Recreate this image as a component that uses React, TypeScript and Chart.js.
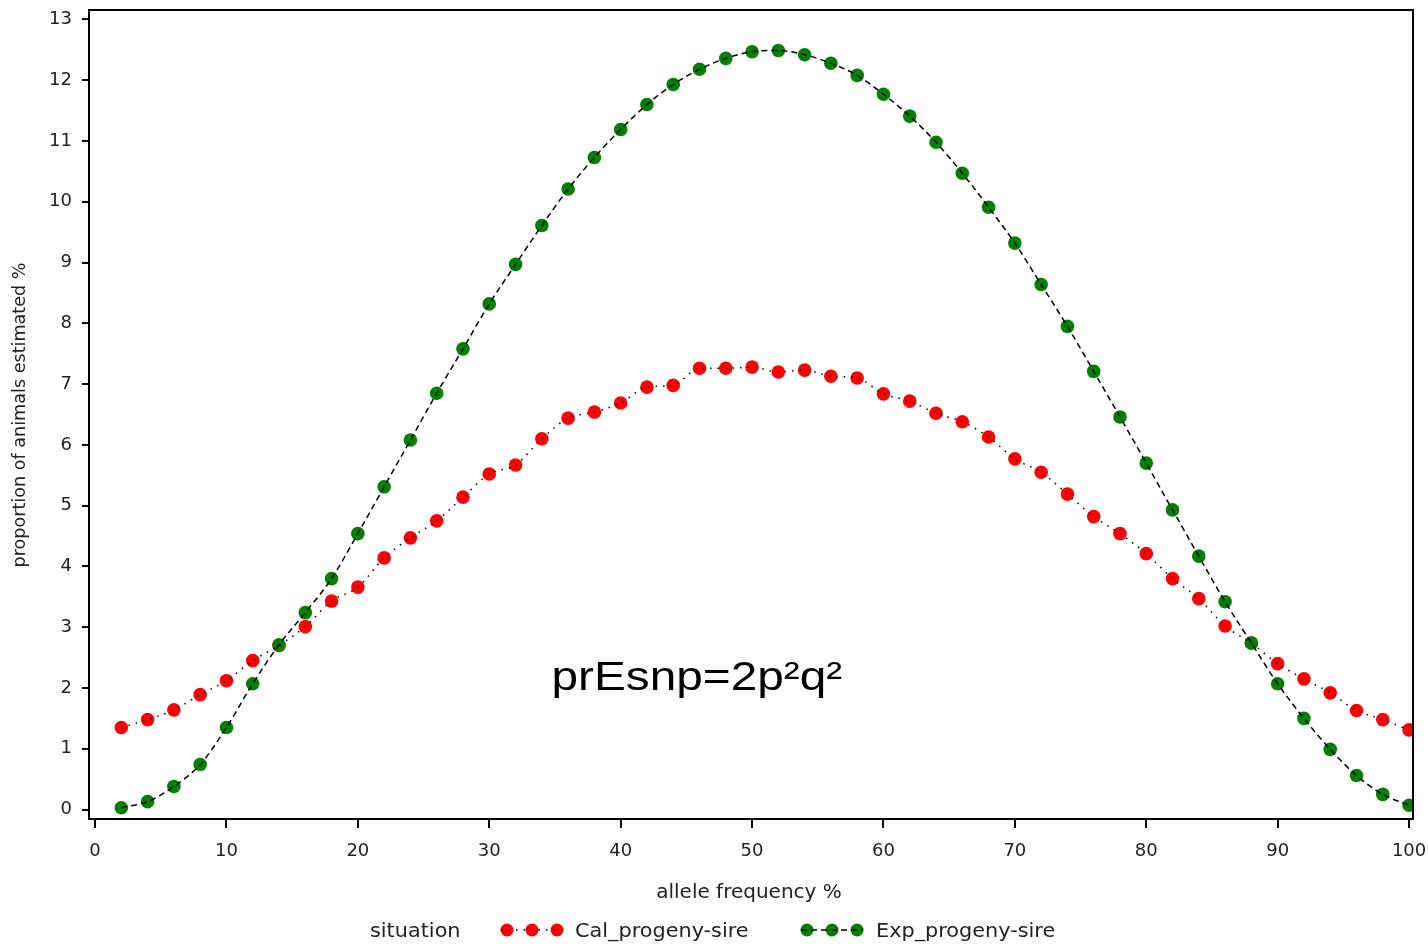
import React, { useEffect, useRef } from "react";
import { Chart, registerables } from "chart.js";

Chart.register(...registerables);

// allele frequency (%)
const X_VALUES = [
  2, 4, 6, 8, 10, 12, 14, 16, 18, 20, 22, 24, 26, 28, 30, 32, 34, 36, 38, 40,
  42, 44, 46, 48, 50, 52, 54, 56, 58, 60, 62, 64, 66, 68, 70, 72, 74, 76, 78, 80,
  82, 84, 86, 88, 90, 92, 94, 96, 98, 100,
];

// Cal_progeny-sire
const CAL_VALUES = [
  1.35, 1.48, 1.64, 1.89, 2.12, 2.45, 2.7, 3.01, 3.43, 3.66, 4.14, 4.47, 4.75, 5.14, 5.52, 5.67, 6.1, 6.44, 6.54, 6.69,
  6.95, 6.98, 7.26, 7.26, 7.28, 7.2, 7.23, 7.13, 7.1, 6.84, 6.72, 6.52, 6.38, 6.13, 5.77, 5.55, 5.19, 4.82, 4.54, 4.21,
  3.8, 3.47, 3.02, 2.74, 2.4, 2.15, 1.92, 1.63, 1.48, 1.31,
];

// Exp_progeny-sire
const EXP_VALUES = [
  0.03, 0.13, 0.38, 0.74, 1.35, 2.07, 2.71, 3.24, 3.8, 4.54, 5.31, 6.08, 6.85, 7.58, 8.32, 8.97, 9.61, 10.21, 10.73, 11.19,
  11.6, 11.93, 12.18, 12.36, 12.47, 12.49, 12.42, 12.28, 12.08, 11.77, 11.41, 10.98, 10.47, 9.91, 9.32, 8.64, 7.95, 7.21, 6.46, 5.7,
  4.93, 4.17, 3.42, 2.74, 2.07, 1.5, 0.99, 0.56, 0.25, 0.07,
];

const X_TICKS = [0, 10, 20, 30, 40, 50, 60, 70, 80, 90, 100];
const Y_TICKS = [0, 1, 2, 3, 4, 5, 6, 7, 8, 9, 10, 11, 12, 13];

const SERIES_NAMES = ["Cal_progeny-sire", "Exp_progeny-sire"];
const LEGEND_TITLE = "situation";
const X_TITLE = "allele frequency %";
const Y_TITLE = "proportion of animals estimated %";
const ANNOTATION = "prEsnp=2p\u00b2q\u00b2";
const ANNOTATION_AT = { x: 45.8, y: 1.97 };

const RED = "#ff0000";
const GREEN = "#008000";
const TEXT = "#222222";
const FONT = '"DejaVu Sans", sans-serif';

const toPoints = (vals: number[]) => vals.map((v, i) => ({ x: X_VALUES[i], y: v }));

const overlay = {
  id: "overlay",
  afterDraw(chart: any) {
    const { ctx, chartArea, scales } = chart;
    const { left, right, top, bottom } = chartArea;
    ctx.save();
    // frame (top & right)
    ctx.strokeStyle = "#000";
    ctx.lineWidth = 2;
    ctx.beginPath();
    ctx.moveTo(left, top);
    ctx.lineTo(right, top);
    ctx.lineTo(right, bottom);
    ctx.stroke();

    // annotation (slightly widened like the source)
    ctx.fillStyle = "#000";
    ctx.font = '41px "Liberation Sans", Arial, sans-serif';
    ctx.textAlign = "center";
    ctx.textBaseline = "alphabetic";
    const ax = scales.x.getPixelForValue(ANNOTATION_AT.x);
    const ay = scales.y.getPixelForValue(ANNOTATION_AT.y);
    ctx.save();
    ctx.translate(ax, ay);
    ctx.scale(1.165, 1);
    ctx.fillText(ANNOTATION, 0, 0);
    ctx.restore();

    // axis titles
    ctx.fillStyle = TEXT;
    ctx.font = "20px " + FONT;
    ctx.textAlign = "center";
    ctx.textBaseline = "middle";
    ctx.fillText(X_TITLE, 749, 893);
    ctx.save();
    ctx.translate(20, 415);
    ctx.rotate(-Math.PI / 2);
    ctx.font = "17.6px " + FONT;
    ctx.fillText(Y_TITLE, 0, 0);
    ctx.restore();

    // legend
    const ly = 932;
    ctx.textAlign = "left";
    ctx.font = "20px " + FONT;
    const widened = (txt: string, x: number, y: number) => {
      ctx.save();
      ctx.translate(x, y);
      ctx.scale(1.04, 1);
      ctx.fillText(txt, 0, 0);
      ctx.restore();
    };
    widened(LEGEND_TITLE, 370, ly);
    const items = [
      { x0: 507, color: RED, dash: [1.5, 6], label: SERIES_NAMES[0], tx: 575 },
      { x0: 807, color: GREEN, dash: [6, 4], label: SERIES_NAMES[1], tx: 876 },
    ];
    items.forEach((it) => {
      for (let k = 0; k < 3; k++) {
        ctx.fillStyle = it.color;
        ctx.beginPath();
        ctx.arc(it.x0 + k * 25, ly - 2, 6.5, 0, Math.PI * 2);
        ctx.fill();
      }
      ctx.strokeStyle = "#000";
      ctx.lineWidth = 1.5;
      ctx.setLineDash(it.dash);
      ctx.beginPath();
      ctx.moveTo(it.x0 - 6, ly - 2);
      ctx.lineTo(it.x0 + 56, ly - 2);
      ctx.stroke();
      ctx.setLineDash([]);
      ctx.fillStyle = TEXT;
      widened(it.label, it.tx, ly);
    });
    ctx.restore();
  },
};

export default function App() {
  const ref = useRef<HTMLCanvasElement | null>(null);
  useEffect(() => {
    document.body.style.margin = "0";
    const canvas = ref.current!;
    const chart = new Chart(canvas, {
      type: "scatter",
      data: {
        datasets: [
          {
            label: SERIES_NAMES[0] + " line",
            data: toPoints(CAL_VALUES),
            showLine: true,
            borderColor: "#000",
            borderWidth: 1.5,
            borderDash: [1.5, 6],
            pointRadius: 0,
            cubicInterpolationMode: "monotone",
            order: 0,
            clip: 1,
          },
          {
            label: SERIES_NAMES[1] + " line",
            data: toPoints(EXP_VALUES),
            showLine: true,
            borderColor: "#000",
            borderWidth: 1.5,
            borderDash: [6, 4],
            pointRadius: 0,
            cubicInterpolationMode: "monotone",
            order: 0,
            clip: 1,
          },
          {
            label: SERIES_NAMES[0],
            data: toPoints(CAL_VALUES),
            showLine: false,
            pointRadius: 6.8,
            pointBackgroundColor: RED,
            pointBorderWidth: 0,
            order: 2,
            clip: 1,
          },
          {
            label: SERIES_NAMES[1],
            data: toPoints(EXP_VALUES),
            showLine: false,
            pointRadius: 6.8,
            pointBackgroundColor: GREEN,
            pointBorderWidth: 0,
            order: 1,
            clip: 1,
          },
        ],
      } as any,
      options: {
        animation: false,
        responsive: false,
        layout: { padding: { top: 10, right: 15, left: 0, bottom: 0 } },
        plugins: { legend: { display: false }, tooltip: { enabled: false } },
        scales: {
          x: {
            type: "linear",
            min: -0.46,
            max: 100.3,
            afterBuildTicks: (s: any) => {
              s.ticks = X_TICKS.map((v) => ({ value: v }));
            },
            afterFit: (s: any) => {
              s.height = 125;
              s.paddingLeft = 0;
              s.paddingRight = 0;
            },
            grid: { drawOnChartArea: false, drawTicks: true, tickLength: 9, color: "#000", lineWidth: 2 },
            border: { display: true, color: "#000", width: 2 },
            ticks: { color: TEXT, font: { family: FONT, size: 18 }, padding: 13, maxRotation: 0 },
          },
          y: {
            type: "linear",
            min: -0.156,
            max: 13.156,
            afterBuildTicks: (s: any) => {
              s.ticks = Y_TICKS.map((v) => ({ value: v }));
            },
            afterFit: (s: any) => {
              s.width = 89;
              s.paddingTop = 0;
              s.paddingBottom = 0;
            },
            grid: { drawOnChartArea: false, drawTicks: true, tickLength: 7, color: "#000", lineWidth: 2 },
            border: { display: true, color: "#000", width: 2 },
            ticks: { color: TEXT, font: { family: FONT, size: 18 }, padding: 10 },
          },
        },
      } as any,
      plugins: [overlay],
    });
    return () => chart.destroy();
  }, []);
  return (
    <div style={{ position: "absolute", left: 0, top: 0, width: 1428, height: 944, background: "#fff" }}>
      <canvas ref={ref} width={1428} height={944} style={{ width: 1428, height: 944 }} />
    </div>
  );
}
